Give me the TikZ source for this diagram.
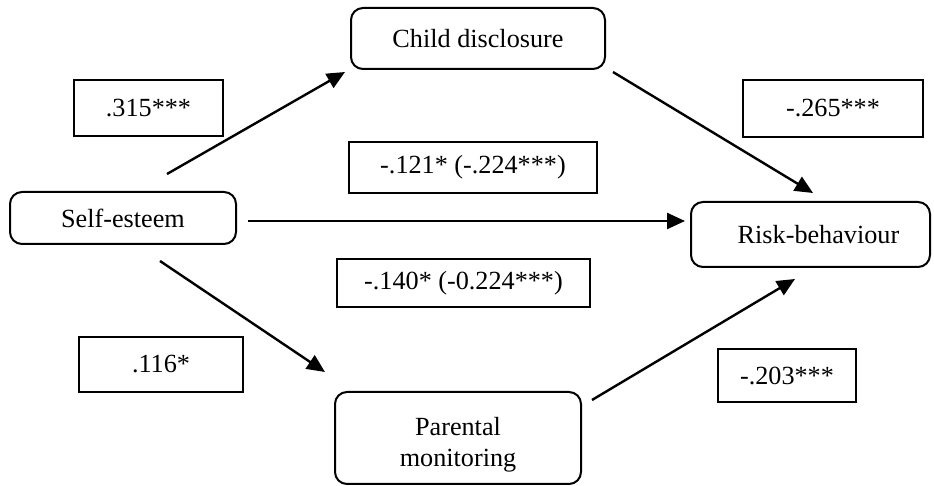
\documentclass[tikz,border=0pt]{standalone}
\usepackage{fontspec}
\setmainfont{Liberation Serif}
\usetikzlibrary{arrows.meta}
\begin{document}
\begin{tikzpicture}[x=0.5pt,y=-0.5pt,
  var/.style={draw, line width=1pt, rounded corners=6pt, inner sep=0pt, align=center, font=\fontsize{13.1}{15.5}\selectfont},
  coef/.style={draw, line width=1pt, inner sep=0pt, font=\fontsize{13.1}{15.5}\selectfont},
  pathar/.style={line width=1.2pt, -{Triangle[length=9pt,width=8pt]}}]
\useasboundingbox (0,0) rectangle (934,486);
% variables
\node[var, minimum width=127pt, minimum height=30.5pt] (cd) at (478,38.5) {Child disclosure};
\node[var, minimum width=113pt, minimum height=26pt] (se) at (123,218) {Self-esteem};
\node[var, minimum width=119.5pt, minimum height=32.5pt, inner xsep=0pt] (rb) at (810.5,234.5) {\hspace*{8pt}Risk-behaviour};
\node[var, minimum width=123pt, minimum height=46pt] (pm) at (458,438) {\rule{0pt}{16pt}Parental\\monitoring};
% coefficients
\node[coef, minimum width=74.5pt, minimum height=28pt] (l1) at (148.5,108) {.315***};
\node[coef, minimum width=124pt, minimum height=25.5pt] (l2) at (473,167.5) {-.121* (-.224***)};
\node[coef, minimum width=126.5pt, minimum height=24pt] (l3) at (463.5,283) {-.140* (-0.224***)};
\node[coef, minimum width=82pt, minimum height=27.5pt] (l4) at (161,364.5) {.116*};
\node[coef, minimum width=90pt, minimum height=28.5pt] (l5) at (833,108.5) {-.265***};
\node[coef, minimum width=69pt, minimum height=26.5pt] (l6) at (787,375.5) {-.203***};
% arrow ends
\coordinate (a1s) at (167,174); \coordinate (a1e) at (345,72);
\coordinate (a2s) at (613,72);  \coordinate (a2e) at (813,193);
\coordinate (a3s) at (248,221); \coordinate (a3e) at (685,221);
\coordinate (a4s) at (160,261); \coordinate (a4e) at (325,372);
\coordinate (a5s) at (592,400); \coordinate (a5e) at (795,279);
\draw[pathar] (a1s) -- (a1e);
\draw[pathar] (a2s) -- (a2e);
\draw[pathar] (a3s) -- (a3e);
\draw[pathar] (a4s) -- (a4e);
\draw[pathar] (a5s) -- (a5e);
\end{tikzpicture}
\end{document}
